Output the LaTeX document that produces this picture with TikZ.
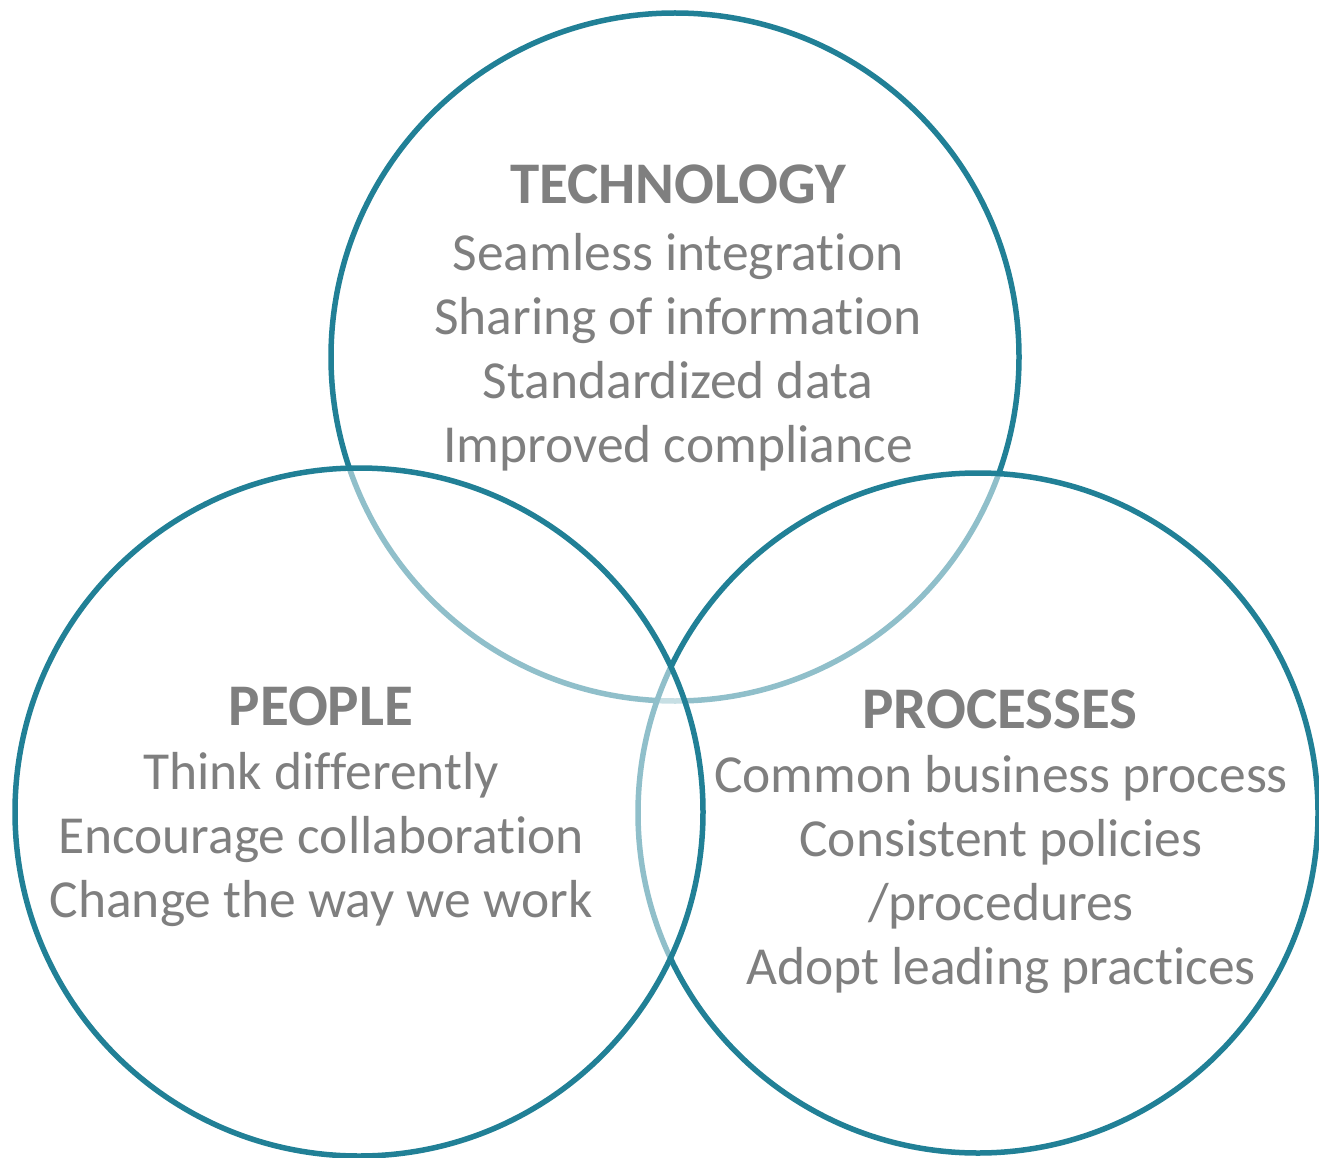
\documentclass[tikz,border=0pt]{standalone}
\usepackage{fontspec}
\setmainfont[Ligatures=NoCommon]{Carlito}
\usetikzlibrary{positioning}

\definecolor{ringteal}{RGB}{33,128,150}
\definecolor{labelgray}{RGB}{127,127,127}

\begin{document}
\begin{tikzpicture}[
  x=1pt, y=-1pt,
  ring/.style = {draw=ringteal, line width=5.5pt, circle, fill=white,
                 fill opacity=0.5, minimum size=688pt, inner sep=0pt},
  ttl/.style  = {text=labelgray, font=\fontsize{59}{64}\selectfont\bfseries,
                 anchor=base, inner sep=0pt},
  txt/.style  = {text=labelgray, font=\fontsize{53.5}{64}\selectfont,
                 align=center, anchor=base, inner sep=0pt},
]
\useasboundingbox (0,0) rectangle (1319,1158);

% circles, back to front
\node[ring] (tech) at (675,357) {};
\node[ring, minimum size=680pt] (proc) at (978,813) {};
\node[ring] (people) at (359,812) {};

% technology (body anchored on its last line)
\node[ttl] (techttl) at (678,204) {TECHNOLOGY};
\node[txt] (techtxt) at (678,462)
  {Seamless integration\\Sharing of information\\Standardized data\\Improved compliance};

% people
\node[ttl] (peoplettl) at (321,725) {PEOPLE};
\node[txt] (peopletxt) at (321,917)
  {Think differently\\Encourage collaboration\\Change the way we work};

% processes
\node[ttl] (procttl) at (1000,728) {PROCESSES};
\node[txt] (proctxt) at (1001,984)
  {Common business process\\Consistent policies\\/procedures\\Adopt leading practices};

\end{tikzpicture}
\end{document}
